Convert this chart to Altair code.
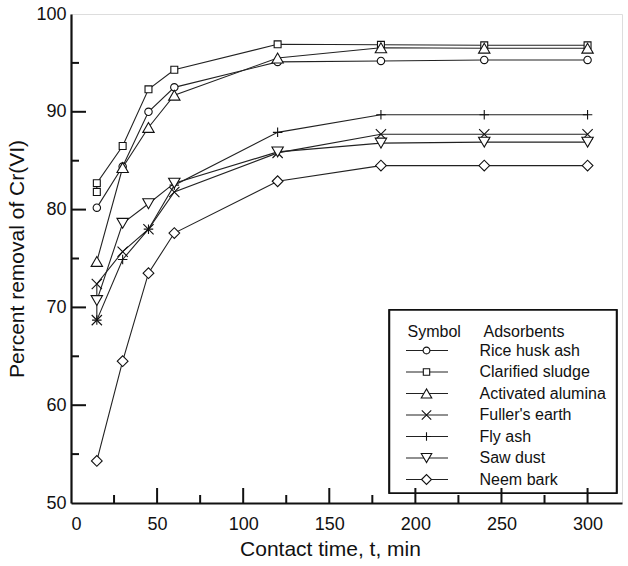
import altair as alt
import pandas as pd

# ---- data ----
times = [15, 30, 45, 60, 120, 180, 240, 300]
names = ["Rice husk ash", "Clarified sludge", "Activated alumina",
         "Fuller's earth", "Fly ash", "Saw dust", "Neem bark"]
rice_husk = [80.2, 84.4, 90.0, 92.5, 95.1, 95.2, 95.3, 95.3]
clarified_sludge = [82.7, 86.5, 92.3, 94.3, 96.9, 96.85, 96.8, 96.8]
activated_alumina = [74.7, 84.3, 88.4, 91.7, 95.5, 96.55, 96.5, 96.5]
fullers_earth = [72.4, 75.7, 78.0, 81.8, 85.8, 87.7, 87.7, 87.7]
fly_ash = [68.7, 74.9, 78.0, 82.5, 87.9, 89.7, 89.7, 89.7]
saw_dust = [70.7, 78.6, 80.6, 82.7, 85.9, 86.8, 86.9, 86.9]
neem_bark = [54.3, 64.5, 73.5, 77.6, 82.9, 84.5, 84.5, 84.5]
# extra (duplicate) readings at t = 15
extra_names = ["Clarified sludge", "Fuller's earth"]
extra_times = [15, 15]
extra_values = [81.8, 68.7]

x_major = [0, 50, 100, 150, 200, 250, 300]
x_minor = [25, 75, 125, 175, 225, 275]
y_major = [50, 60, 70, 80, 90, 100]
y_minor = [55, 65, 75, 85, 95]

series = [rice_husk, clarified_sludge, activated_alumina, fullers_earth,
          fly_ash, saw_dust, neem_bark]

# marker style per series
shapes = ["circle", "square", "triangle-up", "M-1,-1L1,1M-1,1L1,-1",
          "M0,-1L0,1M-1,0L1,0", "triangle-down", "diamond"]
marker_area = dict(zip(names, [55, 48, 130, 105, 90, 130, 115]))

rows = []
for name, vals in zip(names, series):
    for i, (t, v) in enumerate(zip(times, vals)):
        rows.append({"series": name, "t": t, "v": v, "ord": i + 1})
for name, t, v in zip(extra_names, extra_times, extra_values):
    rows.append({"series": name, "t": t, "v": v, "ord": 0})
df = pd.DataFrame(rows)
df["sz"] = df["series"].map(marker_area)

W, H = 551, 489
X_MAX, Y_MIN, Y_MAX = 320, 50, 100
FONT = "Liberation Sans"
INK = "#111"

xs = alt.Scale(domain=[0, X_MAX], nice=False)
ys = alt.Scale(domain=[Y_MIN, Y_MAX], nice=False)

base = alt.Chart(df)
x_enc = alt.X("t:Q", scale=xs,
              axis=alt.Axis(values=x_major, ticks=False, tickSize=0, domain=True,
                            domainColor=INK, domainWidth=2.2,
                            grid=False, labelFontSize=18, labelFont=FONT,
                            labelColor=INK, labelPadding=12,
                            title="Contact time, t, min", titleFontSize=21,
                            titleFont=FONT, titleFontWeight="normal",
                            titleColor=INK, titlePadding=5, titleX=259))
y_enc = alt.Y("v:Q", scale=ys,
              axis=alt.Axis(values=y_major, ticks=False, tickSize=0, domain=True,
                            domainColor=INK, domainWidth=2.2,
                            grid=False, labelFontSize=18, labelFont=FONT,
                            labelColor=INK, labelPadding=5,
                            title="Percent removal of Cr(VI)", titleFontSize=21,
                            titleFont=FONT, titleFontWeight="normal",
                            titleColor=INK, titlePadding=8))

lines = base.mark_line(color="#222", strokeWidth=1.1).encode(
    x=x_enc, y=y_enc, detail="series:N", order="ord:Q")

shape_scale = alt.Scale(domain=names, range=shapes)

points = base.mark_point(filled=True, fill="white", stroke=INK,
                         strokeWidth=1.1, opacity=1).encode(
    x=alt.X("t:Q", scale=xs),
    y=alt.Y("v:Q", scale=ys),
    shape=alt.Shape("series:N", scale=shape_scale, legend=None),
    size=alt.Size("sz:Q", scale=None, legend=None),
)

# ---- legend (drawn by hand) ----
LX0, LX1, LY0, LY1 = 318.5, 545.5, 296, 479
leg = pd.DataFrame({"series": names,
                    "py": [336.5 + 21.5 * i for i in range(len(names))]})
leg["sz"] = leg["series"].map(marker_area) * 0.85
leg_box = alt.Chart(leg).mark_rect(fill="white", stroke=INK, strokeWidth=1.5).encode(
    x=alt.value(LX0), x2=alt.value(LX1), y=alt.value(LY0), y2=alt.value(LY1))
leg_head = alt.Chart(pd.DataFrame({"txt": ["Symbol", "Adsorbents"],
                                   "px": [336.5, 412.5]})).mark_text(
    align="left", baseline="middle", fontSize=16, font=FONT, color=INK).encode(
    x=alt.X("px:Q", scale=None), y=alt.value(317.7), text="txt:N")
leg_line = alt.Chart(leg).mark_rule(color="#222", strokeWidth=1.1).encode(
    x=alt.value(335), x2=alt.value(377), y=alt.Y("py:Q", scale=None))
leg_pts = alt.Chart(leg).mark_point(filled=True, fill="white", stroke=INK,
                                    strokeWidth=1.1, opacity=1).encode(
    x=alt.value(355.5), y=alt.Y("py:Q", scale=None),
    shape=alt.Shape("series:N", scale=shape_scale, legend=None),
    size=alt.Size("sz:Q", scale=None, legend=None),
)
leg_txt = alt.Chart(leg).mark_text(align="left", baseline="middle", fontSize=16,
                                   font=FONT, color=INK).encode(
    x=alt.value(408.5), y=alt.Y("py:Q", scale=None), text="series:N")

# ---- inward ticks (lengths in pixels converted through the scales) ----
MAJ_PX, MIN_PX = 15, 8
ypu = H / (Y_MAX - Y_MIN)
xpu = W / X_MAX
xt_maj = pd.DataFrame({"t": [v for v in x_major if v > 0]})
xt_maj["y0"] = float(Y_MIN)
xt_maj["y1"] = Y_MIN + MAJ_PX / ypu
xt_min = pd.DataFrame({"t": x_minor})
xt_min["y0"] = float(Y_MIN)
xt_min["y1"] = Y_MIN + MIN_PX / ypu
yt_maj = pd.DataFrame({"v": [v for v in y_major if Y_MIN < v < Y_MAX]})
yt_maj["x0"] = 0.0
yt_maj["x1"] = MAJ_PX / xpu
yt_min = pd.DataFrame({"v": y_minor})
yt_min["x0"] = 0.0
yt_min["x1"] = MIN_PX / xpu


def xtick(d):
    return alt.Chart(d).mark_rule(color=INK, strokeWidth=2).encode(
        x=alt.X("t:Q", scale=xs), y=alt.Y("y0:Q", scale=ys), y2="y1:Q")


def ytick(d):
    return alt.Chart(d).mark_rule(color=INK, strokeWidth=2).encode(
        y=alt.Y("v:Q", scale=ys), x=alt.X("x0:Q", scale=xs), x2="x1:Q")


chart = alt.layer(
    lines, points, leg_box, leg_head, leg_line, leg_pts, leg_txt,
    xtick(xt_maj), xtick(xt_min), ytick(yt_maj), ytick(yt_min),
).properties(
    width=W, height=H,
    autosize=alt.AutoSizeParams(type="none"),
    padding={"left": 71, "top": 14, "right": 6, "bottom": 63},
).configure_view(stroke=INK, strokeWidth=2.2).configure(background="white")

chart.save("out.html", embed_options={"renderer": "svg", "actions": False})
